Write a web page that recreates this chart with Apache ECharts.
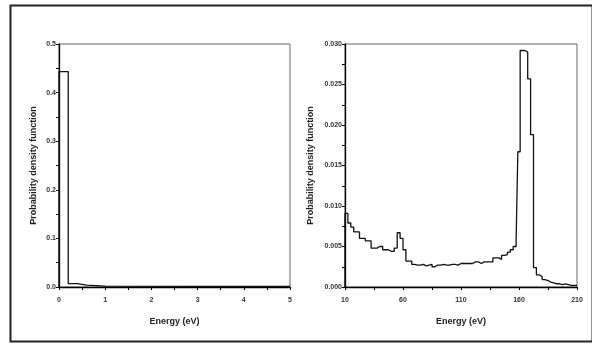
<!DOCTYPE html>
<html>
<head>
<meta charset="utf-8">
<script src="https://cdn.jsdelivr.net/npm/echarts@6/dist/echarts.min.js"></script>
<style>
  html, body {margin: 0; padding: 0; background: #fff;}
  #main {width: 592px; height: 362px;}
</style>
</head>
<body>
<div id="main"></div>
<script>
// left panel: low-energy histogram (bin edges in eV, pdf per bin)
var lowEdges = [0, 0.2, 0.4, 0.6, 1.0, 5.0];
var lowPdf = [0.443, 0.007, 0.004, 0.002, 0.001];
var lowTicks = ['0', '1', '2', '3', '4', '5'];

// right panel: full-range histogram
var highEdges = [10, 12.5, 15, 17.5, 20, 22.5, 25, 27.5, 30, 32.5, 35, 37.5, 40, 42.5, 45, 47.5,
    50, 52.5, 55, 57.5, 60, 62.5, 65, 67.5, 70, 72.5, 75, 77.5, 80, 82.5, 85, 87.5,
    90, 92.5, 95, 97.5, 100, 102.5, 105, 107.5, 110, 112.5, 115, 117.5, 120, 122.5, 125, 127.5,
    130, 132.5, 135, 137.5, 140, 142.5, 145, 147.5, 150, 152.5, 155, 157.5, 159, 161, 165, 167.5,
    170, 172.5, 175, 177.5, 180, 182.5, 185, 187.5, 190, 192.5, 195, 197.5, 200, 202.5, 205, 207.5, 210];
var highPdf = [0.0091, 0.0079, 0.0074, 0.0068, 0.0068, 0.0060, 0.0060, 0.0057, 0.0057, 0.0048, 0.0048, 0.0050, 0.0050, 0.0046, 0.0046, 0.0044,
    0.0044, 0.0048, 0.0067, 0.0060, 0.0046, 0.0032, 0.0032, 0.0028, 0.0027, 0.0027, 0.0028, 0.0026, 0.0027, 0.0028, 0.0025, 0.0027,
    0.0027, 0.0028, 0.0027, 0.0027, 0.0028, 0.0028, 0.0027, 0.0029, 0.0029, 0.0029, 0.0029, 0.0029, 0.0031, 0.0031, 0.0029, 0.0031,
    0.0031, 0.0031, 0.0031, 0.0036, 0.0036, 0.0034, 0.0039, 0.0040, 0.0043, 0.0046, 0.0050, 0.0056, 0.0167, 0.0292, 0.0290, 0.0257,
    0.0188, 0.0024, 0.0015, 0.0013, 0.0009, 0.0008, 0.0006, 0.0005, 0.0004, 0.0004, 0.0003, 0.0004, 0.0003, 0.0002, 0.0002, 0.0002];
var highTicks = ['10', '60', '110', '160', '210'];

function histPoints(edges, vals) {
    var pts = [[edges[0], 0]];
    for (var i = 0; i < vals.length; i++) pts.push([edges[i], vals[i]]);
    pts.push([edges[edges.length - 1], vals[vals.length - 1]]);
    return pts;
}

var font = 'Liberation Sans, Arial, sans-serif';
var tickLabel = {fontSize: 7, fontWeight: 'bold', color: '#333', fontFamily: font, margin: 10};
var nameStyle = {fontSize: 9, fontWeight: 'bold', color: '#222', fontFamily: font};
var axisLine = {show: true, lineStyle: {color: '#000', width: 1.3}};
var tick = {show: true, length: 3, lineStyle: {color: '#000'}};
var minor = {show: true, splitNumber: 2, length: 3, lineStyle: {color: '#000'}};

function xAx(idx, min, max, interval, labels, first) {
    return {
        type: 'value', gridIndex: idx, min: min, max: max, interval: interval,
        name: 'Energy (eV)', nameLocation: 'middle', nameGap: 30, nameTextStyle: nameStyle,
        axisLine: axisLine, axisTick: tick, minorTick: minor, splitLine: {show: false},
        axisLabel: Object.assign({}, tickLabel, {
            formatter: function (v) { return labels[Math.round((v - first) / interval)]; }
        })
    };
}

function yAx(idx, max, interval, digits, gap) {
    return {
        type: 'value', gridIndex: idx, min: 0, max: max, interval: interval,
        name: 'Probability density function', nameLocation: 'middle', nameGap: gap, nameTextStyle: nameStyle,
        axisLine: axisLine, axisTick: tick, minorTick: minor, splitLine: {show: false},
        axisLabel: Object.assign({}, tickLabel, {
            margin: 3,
            formatter: function (v) { return v.toFixed(digits); }
        })
    };
}

var chart = echarts.init(document.getElementById('main'));
chart.setOption({
    backgroundColor: '#fff',
    animation: false,
    graphic: [{
        type: 'rect', left: 8, top: 3,
        shape: {width: 582, height: 336},
        style: {fill: 'none', stroke: '#222', lineWidth: 2}
    }],
    grid: [
        {left: 59, top: 44, width: 231, height: 243, show: true, borderColor: '#666', borderWidth: 1},
        {left: 345, top: 44, width: 232, height: 243, show: true, borderColor: '#666', borderWidth: 1}
    ],
    xAxis: [
        xAx(0, 0, 5, 1, lowTicks, 0),
        xAx(1, 10, 210, 50, highTicks, 10)
    ],
    yAxis: [
        yAx(0, 0.5, 0.1, 1, 21),
        yAx(1, 0.030, 0.005, 3, 30)
    ],
    series: [
        {
            type: 'line', xAxisIndex: 0, yAxisIndex: 0, step: 'end', symbol: 'none',
            lineStyle: {color: '#111', width: 1.3},
            data: histPoints(lowEdges, lowPdf)
        },
        {
            type: 'line', xAxisIndex: 1, yAxisIndex: 1, step: 'end', symbol: 'none',
            lineStyle: {color: '#111', width: 1.3},
            data: histPoints(highEdges, highPdf)
        }
    ]
});
</script>
</body>
</html>
